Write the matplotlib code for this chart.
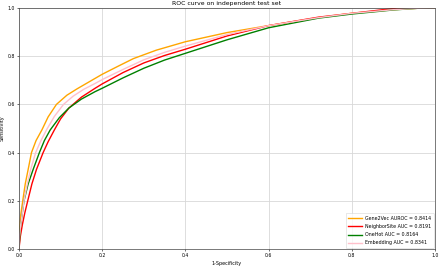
import numpy as np
import matplotlib
matplotlib.use('Agg')
from matplotlib import pyplot as plt

# ROC points (fpr, tpr)
gene2vec_fpr = [0, 0.001, 0.004, 0.009, 0.015, 0.022, 0.03, 0.041, 0.055, 0.07, 0.09, 0.115, 0.14, 0.165,
                0.183, 0.2, 0.24, 0.275, 0.33, 0.4, 0.5, 0.6, 0.72, 0.8, 0.9, 0.96, 1.0]
gene2vec_tpr = [0, 0.07, 0.14, 0.2, 0.27, 0.33, 0.4, 0.45, 0.494, 0.548, 0.6, 0.638, 0.665, 0.69,
                0.708, 0.725, 0.76, 0.79, 0.825, 0.86, 0.898, 0.927, 0.96, 0.978, 0.993, 0.999, 1.0]

neighbor_fpr = [0, 0.003, 0.008, 0.014, 0.021, 0.031, 0.042, 0.058, 0.07, 0.085, 0.1, 0.12, 0.15, 0.183,
                0.2, 0.25, 0.3, 0.35, 0.4, 0.5, 0.6, 0.72, 0.8, 0.91, 1.0]
neighbor_tpr = [0, 0.05, 0.1, 0.15, 0.2, 0.27, 0.33, 0.4, 0.445, 0.494, 0.54, 0.585, 0.63, 0.667,
                0.685, 0.732, 0.772, 0.803, 0.829, 0.884, 0.927, 0.962, 0.978, 1.0, 1.0]

onehot_fpr = [0, 0.002, 0.004, 0.008, 0.012, 0.022, 0.034, 0.049, 0.061, 0.075, 0.097, 0.12, 0.15, 0.183,
              0.2, 0.25, 0.3, 0.35, 0.4, 0.5, 0.6, 0.72, 0.8, 0.9, 0.96, 1.0]
onehot_tpr = [0, 0.06, 0.1, 0.15, 0.2, 0.27, 0.33, 0.4, 0.45, 0.494, 0.545, 0.585, 0.622, 0.653,
              0.667, 0.71, 0.75, 0.784, 0.812, 0.868, 0.918, 0.958, 0.975, 0.992, 0.999, 1.0]

embed_fpr = [0, 0.001, 0.004, 0.008, 0.012, 0.02, 0.028, 0.04, 0.052, 0.066, 0.085, 0.107, 0.13, 0.155,
             0.183, 0.2, 0.25, 0.3, 0.35, 0.4, 0.5, 0.6, 0.72, 0.8, 0.9, 0.96, 1.0]
embed_tpr = [0, 0.05, 0.1, 0.15, 0.2, 0.27, 0.33, 0.4, 0.447, 0.494, 0.55, 0.6, 0.634, 0.662,
             0.687, 0.703, 0.745, 0.785, 0.816, 0.842, 0.89, 0.927, 0.96, 0.978, 0.993, 0.999, 1.0]

labels = ['Gene2Vec AUROC = 0.8414', 'NeighborSite AUC = 0.8191',
          'OneHot AUC = 0.8164', 'Embedding AUC = 0.8341']
colors = ['orange', 'red', 'green', 'pink']

fig = plt.figure(figsize=(4.4, 2.66), dpi=100)
ax = fig.add_axes([19 / 440, 17 / 266, 416 / 440, 241 / 266])

curves = [(gene2vec_fpr, gene2vec_tpr), (neighbor_fpr, neighbor_tpr),
          (onehot_fpr, onehot_tpr), (embed_fpr, embed_tpr)]
for (fpr, tpr), lab, col in zip(curves, labels, colors):
    ax.plot(fpr, tpr, color=col, lw=1.0, label=lab)

ax.set_xlim(0, 1)
ax.set_ylim(0, 1)
ticks = [0.0, 0.2, 0.4, 0.6, 0.8, 1.0]
ax.set_xticks(ticks)
ax.set_yticks(ticks)
ax.tick_params(labelsize=3.3, length=1.5, width=0.4, pad=1.5)
ax.grid(True, color='#d8d8d8', lw=0.6)
for s in ax.spines.values():
    s.set_linewidth(0.5)
    s.set_color('#444444')

ax.set_title('ROC curve on independent test set', fontsize=4.4, pad=2)
ax.set_xlabel('1-Specificity', fontsize=3.5, labelpad=2)
ax.set_ylabel('Sensitivity', fontsize=3.5, labelpad=2)
leg = ax.legend(loc='lower right', fontsize=3.4, borderaxespad=0.15, handlelength=2.8,
                labelspacing=0.7, borderpad=0.6, frameon=True, fancybox=True)
leg.get_frame().set_linewidth(0.4)

fig.savefig('out.png', dpi=100)
